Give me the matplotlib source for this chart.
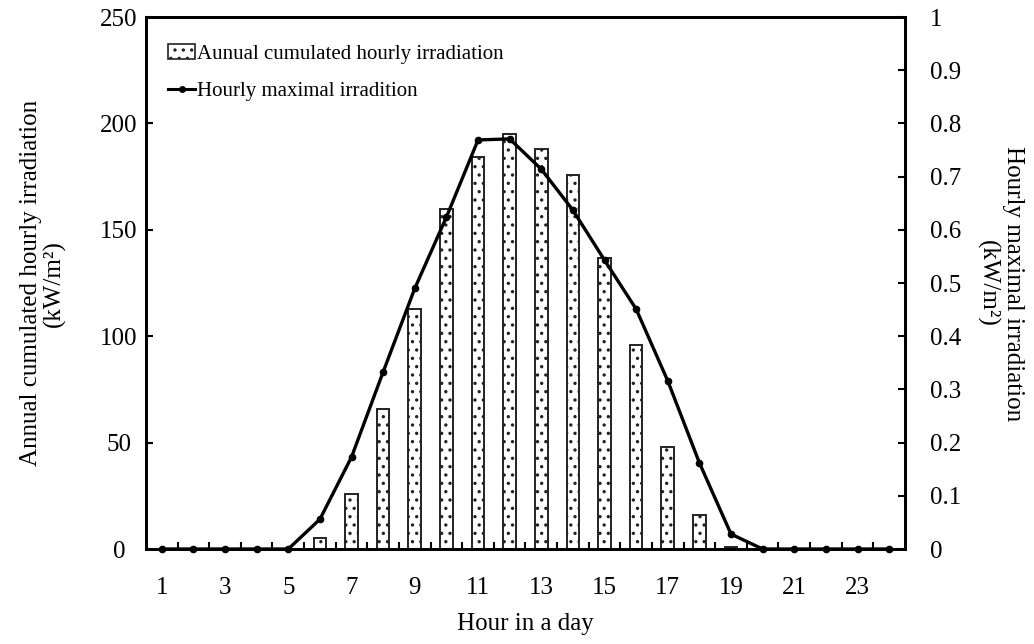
import matplotlib
matplotlib.use("Agg")
import matplotlib.pyplot as plt
from matplotlib.patches import Patch
from matplotlib.lines import Line2D
from matplotlib.ticker import FormatStrFormatter, MultipleLocator
import numpy as np

# hourly data over one day
hours = list(range(1, 25))
annual_irr = [0, 0, 0, 0, 0, 5, 26, 66, 113, 160, 184, 195,
              188, 176, 137, 96, 48, 16, 1, 0, 0, 0, 0, 0]
max_irr = [0, 0, 0, 0, 0, 0.056, 0.173, 0.333, 0.49, 0.624, 0.769, 0.771,
           0.714, 0.637, 0.543, 0.451, 0.316, 0.162, 0.028, 0, 0, 0, 0, 0]
xtick_labels = [str(h) for h in range(1, 24, 2)]

plt.rcParams['font.family'] = ['Liberation Serif', 'DejaVu Serif']
plt.rcParams['hatch.linewidth'] = 1.2

fig = plt.figure(figsize=(10.34, 6.44), dpi=100)
ax = fig.add_axes([0.1412, 0.1475, 0.734, 0.826])
ax2 = ax.twinx()

# bars: annual cumulated irradiation
ax.bar(hours, annual_irr, width=0.4, color='white', edgecolor='#222222',
       linewidth=1.4, hatch='..', zorder=2)
ax.set_xlim(0.5, 24.5)
ax.set_ylim(0, 250)

# line: hourly maximum
ax2.plot(hours, max_irr, color='black', lw=2.4, marker='o', ms=4.5,
         clip_on=False, zorder=3)
ax2.set_ylim(0, 1)

for s in ax.spines.values():
    s.set_linewidth(2)
for s in ax2.spines.values():
    s.set_linewidth(2)

# x axis: labels on odd hours, ticks between categories
ax.set_xticks(range(1, 24, 2))
ax.set_xticklabels(xtick_labels)
ax.set_xticks(np.arange(1.5, 24.5, 1), minor=True)
ax.tick_params(axis='x', which='major', length=0, pad=20, labelsize=18)
ax.tick_params(axis='x', which='minor', direction='in', length=5, width=1.5)

ax.yaxis.set_major_locator(MultipleLocator(50))
ax.tick_params(axis='y', direction='in', length=5, width=1.5, pad=19.5,
               labelsize=18)
for lbl in ax.get_yticklabels():
    lbl.set_horizontalalignment('center')

ax2.yaxis.set_major_locator(MultipleLocator(0.1))
ax2.yaxis.set_major_formatter(FormatStrFormatter('%g'))
ax2.tick_params(axis='y', direction='in', length=5, width=1.5, pad=18,
                labelsize=18)

ax.set_xlabel('Hour in a day', fontsize=18, labelpad=10)

# axis titles placed in figure coordinates
fig.text(43 / 1034, 0.56, 'Annual cumulated hourly irradiation\n(kW/m²)',
         rotation=90, ha='center', va='center', fontsize=18,
         linespacing=1.05, multialignment='center')
fig.text(1000 / 1034, 0.56, 'Hourly maximal irradiation\n(kW/m²)',
         rotation=270, ha='center', va='center', fontsize=18,
         linespacing=1.2, multialignment='center')

handles = [Patch(facecolor='white', edgecolor='#222222', hatch='..', lw=1.2),
           Line2D([], [], color='black', lw=2.2, marker='o', ms=4)]
labels = ['Aunual cumulated hourly irradiation', 'Hourly maximal irradition']
ax2.legend(handles, labels, loc='upper left', bbox_to_anchor=(0.018, 0.965),
           frameon=False, fontsize=15, handlelength=1.3, handletextpad=0.1,
           labelspacing=0.85, borderaxespad=0)

fig.savefig('out.png', dpi=100)
